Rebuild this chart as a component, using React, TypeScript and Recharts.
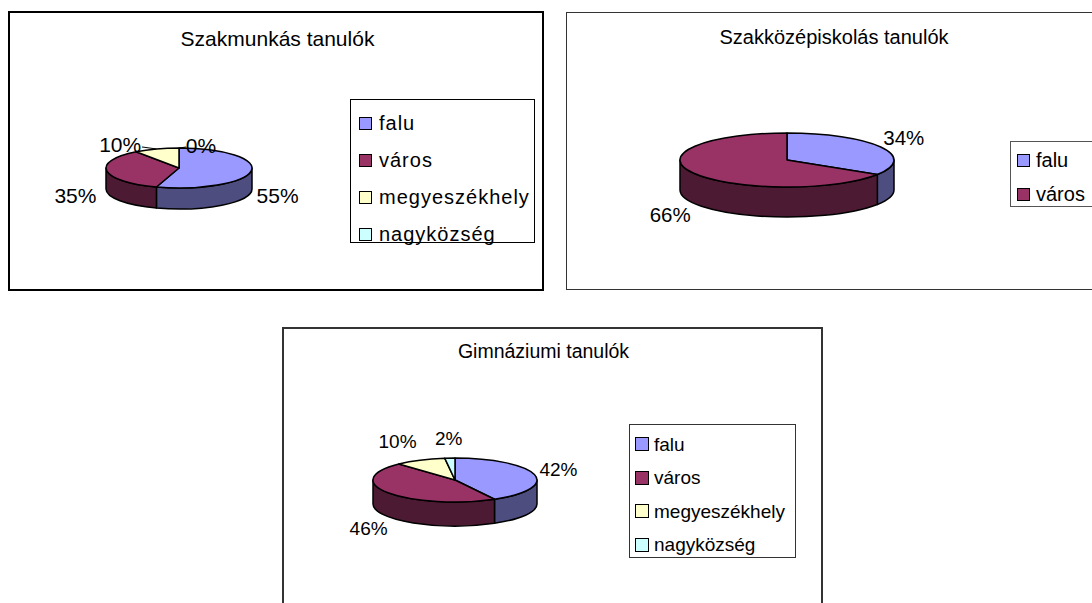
import { PieChart, Pie, Cell, Legend } from 'recharts'

// chart values
const CATEGORIES = ['falu', 'város', 'megyeszékhely', 'nagyközség']
const SZAKMUNKAS_VALUES = [55, 35, 10, 0]
const SZAKKOZEP_CATEGORIES = ['falu', 'város']
const SZAKKOZEP_VALUES = [34, 66]
const GIMNAZIUM_VALUES = [42, 46, 10, 2]

const COLORS = ['#9999FF', '#993366', '#FFFFCC', '#CCFFFF']

const FONT = '"Liberation Sans", Arial, sans-serif'

function darken(hex: string, k = 0.5) {
  const n = parseInt(hex.slice(1), 16)
  const r = Math.round(((n >> 16) & 255) * k)
  const g = Math.round(((n >> 8) & 255) * k)
  const b = Math.round((n & 255) * k)
  return `rgb(${r},${g},${b})`
}

function pt(cx: number, cy: number, rx: number, ry: number, deg: number) {
  const a = (deg * Math.PI) / 180
  return [cx + rx * Math.cos(a), cy - ry * Math.sin(a)]
}

interface ChartCfg {
  title: string
  left: number
  top: number
  width: number
  height: number
  border: string
  titleX: number
  titleY: number
  titleSize: number
  cx: number
  cy: number
  rx: number
  ry: number
  depth: number
  labelSize: number
  legend: { left: number; top: number; width: number; height: number; first: number; step: number; size: number; spacing: number; marker: number; markerLeft: number; gap: number; border: string }
  nudges?: Record<string, [number, number]>
  leaders?: string[]
}

// elliptical 3D slice drawn from the angles Recharts computed
function makeSlice(cfg: ChartCfg) {
  return (p: any) => {
    const { cx, cy, outerRadius: rx, startAngle, endAngle, fill } = p
    const { ry, depth } = cfg
    const hi = Math.max(startAngle, endAngle)
    const lo = Math.min(startAngle, endAngle)
    if (hi - lo < 0.01) return <g />
    const [x1, y1] = pt(cx, cy, rx, ry, hi)
    const [x2, y2] = pt(cx, cy, rx, ry, lo)
    const large = hi - lo > 180 ? 1 : 0
    const top = `M${cx},${cy} L${x1},${y1} A${rx},${ry} 0 ${large} 1 ${x2},${y2} Z`
    let wall: string | null = null
    const wHi = Math.min(hi, 0)
    const wLo = Math.max(lo, -180)
    if (wHi > wLo) {
      const [a1, b1] = pt(cx, cy, rx, ry, wHi)
      const [a2, b2] = pt(cx, cy, rx, ry, wLo)
      wall = `M${a1},${b1} A${rx},${ry} 0 0 1 ${a2},${b2} L${a2},${b2 + depth} A${rx},${ry} 0 0 0 ${a1},${b1 + depth} Z`
    }
    return (
      <g>
        {wall && <path d={wall} fill={darken(fill)} stroke="#000" strokeWidth={1.5} strokeLinejoin="round" />}
        <path d={top} fill={fill} stroke="#000" strokeWidth={1.5} strokeLinejoin="round" />
      </g>
    )
  }
}

function makeLabel(cfg: ChartCfg) {
  return (p: any) => {
    const { cx, cy, midAngle, outerRadius: rx, percent } = p
    const name = p.name ?? p.payload?.name
    const { ry, depth, labelSize } = cfg
    const text = `${Math.round(percent * 100)}%`
    const a = (midAngle * Math.PI) / 180
    const c = Math.cos(a)
    const s = Math.sin(a)
    const g = 6
    const w = text.length * labelSize * 0.66
    let x = cx + (rx + g) * c + (c * w) / 2
    let y = cy - (ry + g) * s + (s < 0 ? depth : 0) - s * 14
    const nudge = cfg.nudges?.[name]
    if (nudge) {
      x += nudge[0]
      y += nudge[1]
    }
    let leader = null
    if (cfg.leaders?.includes(name)) {
      const [ex, ey] = pt(cx, cy, rx, ry, midAngle)
      const edge = ex > x ? x + w / 2 + 1 : x - w / 2 - 1
      leader = <line x1={edge} y1={y + 2} x2={ex} y2={ey} stroke="#000" strokeWidth={1} />
    }
    return (
      <g>
        {leader}
        <text x={x} y={y} textAnchor="middle" dominantBaseline="central" fontSize={labelSize} fontFamily={FONT} fill="#000">
          {text}
        </text>
      </g>
    )
  }
}

function makeLegend(cfg: ChartCfg, names: string[]) {
  const L = cfg.legend
  return () => (
    <div
      style={{
        boxSizing: 'border-box',
        width: L.width,
        height: L.height,
        border: L.border,
        background: '#fff',
        paddingTop: L.first - L.step / 2,
        fontFamily: FONT,
        fontSize: L.size,
        letterSpacing: L.spacing,
        color: '#000',
      }}
    >
      {names.map((name, i) => (
        <div key={name} style={{ height: L.step, display: 'flex', alignItems: 'center', whiteSpace: 'nowrap' }}>
          <span
            style={{
              boxSizing: 'border-box',
              marginLeft: L.markerLeft,
              marginRight: L.gap,
              width: L.marker,
              height: L.marker,
              background: COLORS[i % COLORS.length],
              border: '1.5px solid #000',
              flexShrink: 0,
            }}
          />
          <span style={{ lineHeight: 1 }}>{name}</span>
        </div>
      ))}
    </div>
  )
}

function Pie3D({ cfg, names, values }: { cfg: ChartCfg; names: string[]; values: number[] }) {
  const data = names.map((name, i) => ({ name, value: values[i] }))
  const L = cfg.legend
  return (
    <div style={{ position: 'absolute', left: cfg.left, top: cfg.top, width: cfg.width, height: cfg.height, background: '#fff' }}>
      <PieChart width={cfg.width} height={cfg.height} margin={{ top: 0, right: 0, bottom: 0, left: 0 }}>
        <Pie
          data={data}
          dataKey="value"
          nameKey="name"
          cx={cfg.cx}
          cy={cfg.cy}
          outerRadius={cfg.rx}
          startAngle={90}
          endAngle={-270}
          shape={makeSlice(cfg)}
          label={makeLabel(cfg)}
          labelLine={false}
          isAnimationActive={false}
        >
          {data.map((d, i) => (
            <Cell key={d.name} fill={COLORS[i % COLORS.length]} />
          ))}
        </Pie>
        <Legend
          layout="vertical"
          align="right"
          verticalAlign="middle"
          content={makeLegend(cfg, names)}
          wrapperStyle={{ left: L.left, top: L.top, right: 'auto', bottom: 'auto', width: L.width, height: L.height, margin: 0 }}
        />
      </PieChart>
      <div
        style={{
          position: 'absolute',
          left: cfg.titleX,
          top: cfg.titleY,
          transform: 'translate(-50%, -50%)',
          fontFamily: FONT,
          fontSize: cfg.titleSize,
          lineHeight: 1,
          whiteSpace: 'nowrap',
          color: '#000',
        }}
      >
        {cfg.title}
      </div>
      <div style={{ position: 'absolute', inset: 0, border: cfg.border, boxSizing: 'border-box', pointerEvents: 'none' }} />
    </div>
  )
}

const chart1: ChartCfg = {
  title: 'Szakmunkás tanulók',
  left: 8, top: 11, width: 536, height: 280, border: '2.5px solid #000',
  titleX: 269.5, titleY: 27, titleSize: 21,
  cx: 171, cy: 157, rx: 73, ry: 20, depth: 21, labelSize: 21,
  legend: { left: 342, top: 88, width: 185, height: 144, first: 23, step: 37, size: 20, spacing: 1, marker: 13, markerLeft: 8, gap: 7, border: '1.5px solid #000' },
  nudges: { város: [-5, 0], megyeszékhely: [-28, 15], nagyközség: [22, 17] },
  leaders: ['megyeszékhely', 'nagyközség'],
}

const chart2: ChartCfg = {
  title: 'Szakközépiskolás tanulók',
  left: 566, top: 12, width: 536, height: 278, border: '1.5px solid #333',
  titleX: 268, titleY: 24.5, titleSize: 20,
  cx: 221, cy: 148, rx: 107, ry: 27, depth: 30, labelSize: 20.5,
  legend: { left: 444, top: 129, width: 120, height: 66, first: 18, step: 34, size: 20, spacing: 0, marker: 13, markerLeft: 6, gap: 6, border: '1px solid #555' },
  nudges: { város: [0, 2] },
}

const chart3: ChartCfg = {
  title: 'Gimnáziumi tanulók',
  left: 282, top: 327, width: 541, height: 300, border: '2px solid #333',
  titleX: 261.5, titleY: 24.5, titleSize: 19.5,
  cx: 173, cy: 153, rx: 82, ry: 22, depth: 24, labelSize: 19,
  legend: { left: 347, top: 97, width: 167, height: 134, first: 19, step: 33.5, size: 19, spacing: 0, marker: 14, markerLeft: 5, gap: 5, border: '1px solid #333' },
  nudges: { megyeszékhely: [-12, 0] },
}

export default function App() {
  return (
    <div style={{ position: 'absolute', left: 0, top: 0, width: 1092, height: 603, overflow: 'hidden', background: '#fff' }}>
      <Pie3D cfg={chart1} names={CATEGORIES} values={SZAKMUNKAS_VALUES} />
      <Pie3D cfg={chart2} names={SZAKKOZEP_CATEGORIES} values={SZAKKOZEP_VALUES} />
      <Pie3D cfg={chart3} names={CATEGORIES} values={GIMNAZIUM_VALUES} />
    </div>
  )
}
